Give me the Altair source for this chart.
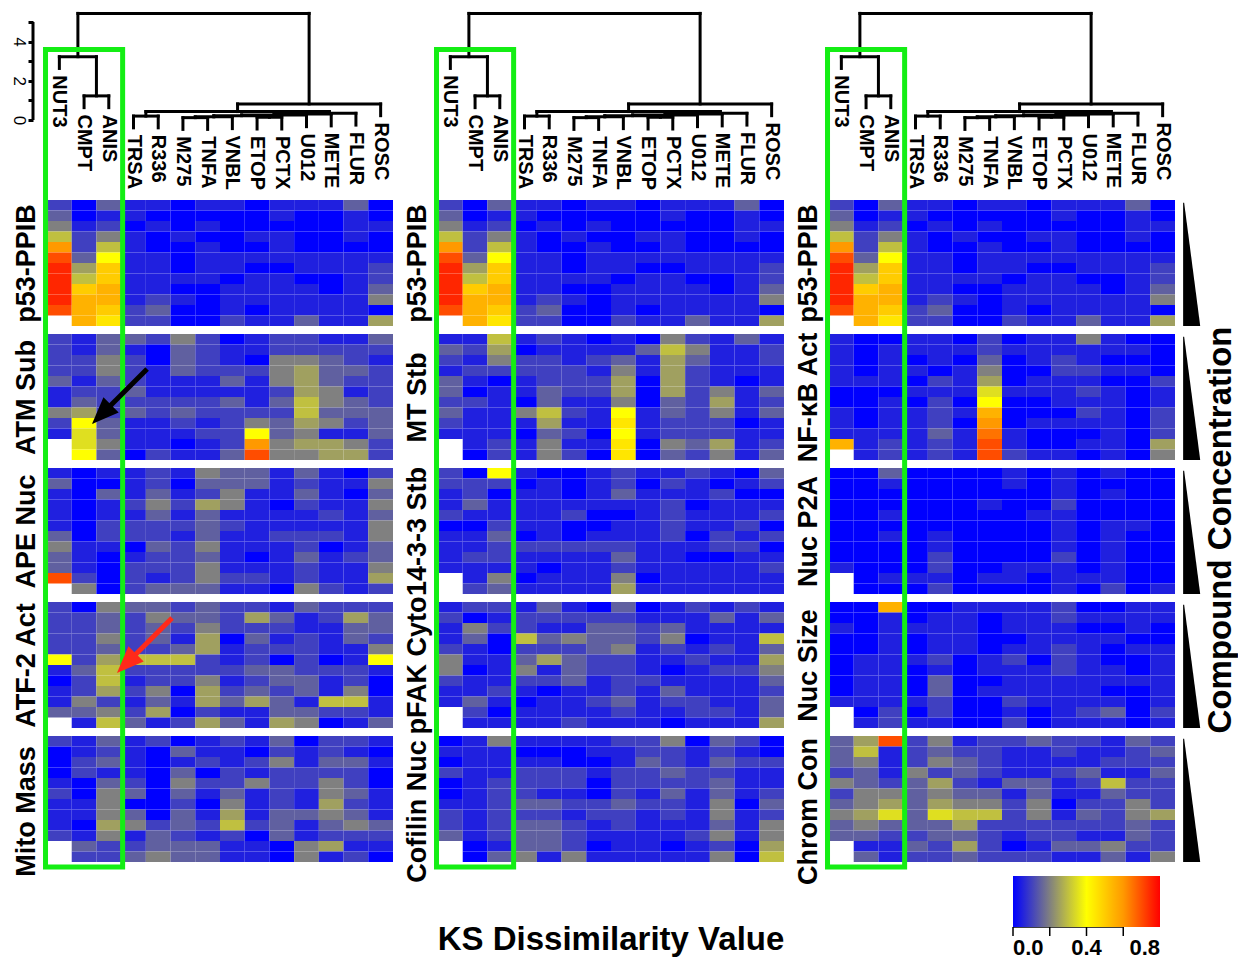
import math
import altair as alt
import pandas as pd

COMPOUNDS = ["NUT3", "CMPT", "ANIS", "TRSA", "R336", "M275", "TNFA",
             "VNBL", "ETOP", "PCTX", "U012", "METE", "FLUR", "ROSC"]

# KS dissimilarity per panel: one string per concentration step (low -> high),
# one character per compound; value = base-36 digit x 0.05, "." = no data
P53_PPIB = ["20311011011130", "30110000010010", "41201010000011", "62410100110010",
            "c2610010010000", "e3811011111111", "f5a11011001112", "f6a11110110012",
            "fab11001111013", "fbb12101111114", "eba23001011110", ".b922002113115"]
ATM_SUB = ["21332420122113", "21310321122222", "22420321044321", "22421322245332",
           "31321113145322", "12231111125412", "13222223136432", "45232322226333",
           "28311212435423", "17311122834113", ".7411012c45542", ".8302113e44552"]
APE_NUC = ["10112143313102", "30012033312114", "10313124113103", "10124254102114",
           "10113131111213", "10222232111114", "30222131122214", "41103241112013",
           "31012231013123", "31022241112114", "e2021242212115", ".4023331104212"]
ATF2_ACT = ["20433232213222", "22324332531253", "22323242221133", "22423150312132",
            "22322351222114", "82566621202018", "13622222332221", "02612241233120",
            "12524052323140", "14213153531661", "33425021133221", ".1631253154013"]
MITO_MASS = ["21312012130221", "01210311021210", "02310121241331", "02110302122220",
             "10320422422420", "20430313121431", "11400204121521", "11430315133431",
             "10542326231343", "21413212031222", ".3223331104511", ".2234331104120"]
MT_STB = ["11612101042131", "32501111364112", "21422123153112", "12222214152111",
          "31012225052101", "30113225052413", "22103114032512", "31146218132413",
          "21115119122201", "11103208122211", ".1214119043512", ".0214209032413"]
STB_14_3_3 = ["20810012112103", "22201012021012", "12011013111200", "13111111120111",
              "21111200121112", "00211001121120", "11301011120212", "11222222111220",
              "12211113110011", "11110112111112", ".1401114011111", ".2311115111111"]
PFAK_CYTO = ["12213103012121", "20122222111313", "14221133231111", "13063433240116",
             "21022234121213", "41135322112115", "40141322101224", "21122312211113",
             "11210112131112", "13101123122113", ".2011112112213", ".1111211101115"]
COFILIN_NUC = ["01411112240320", "11100011221210", "01111001321322", "21122212232211",
               "01222202222311", "01221102131312", "11233223221403", "21222122121412",
               "21233212111314", "31233211112414", ".0133201101205", ".0341411111406"]
NFKB_ACT = ["10011020114100", "10111121111110", "10101030121000", "10110140022110",
            "11102150111002", "00011171112101", "00102080011101", "101121b0002102",
            "101120c0111102", "111131d1000102", "b12121e1001105", ".12121e2110104"]
NUC_P2A = ["00300001010100", "00100001010000", "00000000010100", "00000010020000",
           "00100000110000", "00000000010110", "00101000010100", "00001000010100",
           "00002000020100", "10002001110100", ".0111011011100", ".0002000010201"]
NUC_SIZE = ["00b00111120011", "00101101121111", "10111101110010", "00101100111100",
            "00101101121011", "01112012021001", "01101011121101", "01103001111111",
            "01103011111001", "11112002111101", ".0202001012302", ".1211002011101"]
CHROM_CON = ["35e24122322132", "36123221121123", "34124321111222", "23142321123113",
             "43235213312622", "24434331311322", "34535442402242", "45737662413245",
             "34333522222232", "33223321221132", ".1132520133422", ".3122322211314"]

COLUMNS = [
    [("p53-PPIB", P53_PPIB), ("ATM Sub", ATM_SUB), ("APE Nuc", APE_NUC),
     ("ATF-2 Act", ATF2_ACT), ("Mito Mass", MITO_MASS)],
    [("p53-PPIB", P53_PPIB), ("MT Stb", MT_STB), ("14-3-3 Stb", STB_14_3_3),
     ("pFAK Cyto", PFAK_CYTO), ("Cofilin Nuc", COFILIN_NUC)],
    [("p53-PPIB", P53_PPIB), ("NF-\u03baB Act", NFKB_ACT), ("Nuc P2A", NUC_P2A),
     ("Nuc Size", NUC_SIZE), ("Chrom Con", CHROM_CON)],
]

# dendrogram: (left, right, height); leaves 0..13, merged nodes numbered from 14
DENDRO_MERGES = [
    (1, 2, 1.23), (0, 14, 3.23), (3, 4, 0.20), (5, 6, 0.12), (17, 7, 0.16),
    (8, 9, 0.14), (18, 19, 0.22), (20, 10, 0.26), (21, 11, 0.30), (22, 12, 0.34),
    (16, 23, 0.43), (24, 13, 0.82), (15, 25, 5.44),
]
LEAF_HANG = 0.6
SCALE_BAR = [0, 5]

COLOR_STOPS = [0.0, 0.2, 0.4, 0.6, 0.8]
COLOR_RANGE = ["#0000ff", "#808080", "#ffff00", "#ff9900", "#ff0000"]
LEGEND_VALUES = [0.0, 0.4, 0.8]
LEGEND_TICKS = [0.0, 0.2, 0.4, 0.6]

# layout (pixels)
PANEL_W, PANEL_H, GAP = 346, 126, 8
DENDRO_H, COL_GAP = 170, 45
DENDRO_PX_PER_UNIT = 19.6
N_ROWS = 12
CELL_W = PANEL_W / len(COMPOUNDS)
ROW_H = PANEL_H / N_ROWS
FONT = "Liberation Sans"
GREEN = "#14ee14"
LEG_X, LEG_Y, LEG_LEN, LEG_THICK = 966, 854, 147, 51
LEG_TICK_LEN = 9

XS = alt.Scale(domain=[0, len(COMPOUNDS)], nice=False, zero=False)
YS = alt.Scale(domain=[0, N_ROWS], nice=False, zero=False, reverse=True)
DYS = alt.Scale(domain=[5 - DENDRO_H / DENDRO_PX_PER_UNIT, 5], nice=False, zero=False)
CSCALE = alt.Scale(domain=COLOR_STOPS, range=COLOR_RANGE, interpolate="rgb", clamp=True)
LEGEND = alt.Legend(orient="none", legendX=LEG_X, legendY=LEG_Y, direction="horizontal",
                    type="gradient",
                    gradientLength=LEG_LEN, gradientThickness=LEG_THICK, values=LEGEND_VALUES,
                    format=".1f", labelFontSize=22, labelFontWeight="bold",
                    labelColor="black", labelFont=FONT, labelAlign="center",
                    labelOffset=11, gradientStrokeWidth=0, title=None)

P5_TOP = DENDRO_H + GAP + 4 * (PANEL_H + GAP)   # panel-5 top, px below the first row top


def rows_offset(p):
    """rows from panel 5 top to panel p top (negative = above)."""
    return -(4 - p) * (PANEL_H + GAP) / ROW_H


def heat_df(rows):
    recs = []
    for r, s in enumerate(rows):
        assert len(s) == len(COMPOUNDS), s
        for c, ch in enumerate(s):
            if ch == ".":
                continue
            v = round(int(ch, 36) * 0.05, 2)
            recs.append({"compound": COMPOUNDS[c], "x": c, "x2": c + 1,
                         "y": r, "y2": r + 1, "ks": v})
    return pd.DataFrame(recs)


def arrow_layers(tail, tip, color, yaxis, head_len=27):
    dxp = (tip[0] - tail[0]) * CELL_W
    dyp = (tip[1] - tail[1]) * ROW_H
    L = math.hypot(dxp, dyp)
    ux, uy = dxp / L, dyp / L
    cx = tip[0] - ux * head_len / 2 / CELL_W
    cy = tip[1] - uy * head_len / 2 / ROW_H
    ang = math.degrees(math.atan2(ux, -uy)) % 360
    shaft = alt.Chart(pd.DataFrame([{"x": tail[0], "x2": cx, "y": tail[1], "y2": cy}])).mark_rule(
        color=color, strokeWidth=5).encode(
        x=alt.X("x:Q", scale=XS, axis=None), x2="x2:Q",
        y=alt.Y("y:Q", scale=YS, axis=yaxis), y2="y2:Q")
    head = alt.Chart(pd.DataFrame([{"x": cx, "y": cy}])).mark_point(
        shape="M0,-1L0.8,1L-0.8,1Z", filled=True, opacity=1, color=color,
        size=head_len ** 2, angle=ang, strokeWidth=0).encode(
        x=alt.X("x:Q", scale=XS, axis=None), y=alt.Y("y:Q", scale=YS, axis=yaxis))
    return [shaft, head]


def panel(ci, p, name, rows):
    ax = dict(title=name, titleFontSize=27, titleFontWeight="bold", titleColor="black",
              titleFont=FONT, titleAngle=270, titlePadding=3, labels=False, domain=False,
              ticks=True, tickSize=3, tickColor="#8a8a8a", values=list(range(1, N_ROWS)),
              grid=False)
    if p == 4:
        ax["titleY"] = 75
    yaxis = alt.Axis(**ax)
    heat = alt.Chart(heat_df(rows)).mark_rect().encode(
        x=alt.X("x:Q", scale=XS, axis=None), x2="x2:Q",
        y=alt.Y("y:Q", scale=YS, axis=yaxis), y2="y2:Q",
        color=alt.Color("ks:Q", scale=CSCALE, legend=LEGEND),
        tooltip=["compound:N", "ks:Q"])
    layers = [heat]
    if ci == 2:
        tri = pd.DataFrame([{"y": 0.25, "x": 14.33, "x2": 14.37},
                            {"y": 12.0, "x": 14.33, "x2": 15.02}])
        layers.append(alt.Chart(tri).mark_area(orient="horizontal", color="black").encode(
            y=alt.Y("y:Q", scale=YS, axis=yaxis),
            x=alt.X("x:Q", scale=XS, axis=None), x2="x2:Q"))
        if p == 2:
            layers.append(alt.Chart(pd.DataFrame([{"x": 15.86, "y": 5.9,
                                                   "t": "Compound Concentration"}])).mark_text(
                angle=270, fontSize=33, fontWeight="bold", font=FONT, color="black",
                align="center", baseline="middle").encode(
                x=alt.X("x:Q", scale=XS, axis=None), y=alt.Y("y:Q", scale=YS, axis=yaxis),
                text="t:N"))
        if p == 4:
            # tick marks under the colour bar
            x0 = (LEG_X - 2 * (PANEL_W + COL_GAP)) / CELL_W
            per = LEG_LEN / COLOR_STOPS[-1] / CELL_W
            yb = (LEG_Y + LEG_THICK - P5_TOP) / ROW_H
            ticks = [{"x": x0 + v * per, "x2": x0 + v * per, "y": yb,
                      "y2": yb + LEG_TICK_LEN / ROW_H} for v in LEGEND_TICKS]
            ticks.append({"x": x0, "x2": x0 + LEGEND_TICKS[-1] * per, "y": yb, "y2": yb})
            layers.append(alt.Chart(pd.DataFrame(ticks)).mark_rule(
                color="black", strokeWidth=1.5).encode(
                x=alt.X("x:Q", scale=XS, axis=None), x2="x2:Q",
                y=alt.Y("y:Q", scale=YS, axis=yaxis), y2="y2:Q"))
    if ci == 1 and p == 4:
        layers.append(alt.Chart(pd.DataFrame([{"x": 7.0, "y": 19.4,
                                               "t": "KS Dissimilarity Value"}])).mark_text(
            fontSize=33, fontWeight="bold", font=FONT, color="black",
            align="center", baseline="middle").encode(
            x=alt.X("x:Q", scale=XS, axis=None), y=alt.Y("y:Q", scale=YS, axis=yaxis),
            text="t:N"))
    if p == 4:
        top_rows = (27.5 - P5_TOP) / ROW_H
        box = pd.DataFrame([{"x": -0.06, "x2": 3.06, "y": top_rows, "y2": 12.48}])
        layers.append(alt.Chart(box).mark_rect(fill="transparent", stroke=GREEN,
                                               strokeWidth=5).encode(
            x=alt.X("x:Q", scale=XS, axis=None), x2="x2:Q",
            y=alt.Y("y:Q", scale=YS, axis=yaxis), y2="y2:Q"))
        if ci == 0:
            o2, o4 = rows_offset(1), rows_offset(3)
            layers += arrow_layers((4.05, 3.33 + o2), (1.82, 8.57 + o2), "black", yaxis)
            layers += arrow_layers((5.06, 1.52 + o4), (2.83, 6.76 + o4), "#ff2a1a", yaxis)
    return alt.layer(*layers).properties(width=PANEL_W, height=PANEL_H)


def dendro(show_axis):
    pos = {i: i + 0.5 for i in range(len(COMPOUNDS))}
    hgt, leaf_end, segs = {}, {}, []
    for k, (a, b, h) in enumerate(DENDRO_MERGES):
        node = len(COMPOUNDS) + k
        pos[node] = (pos[a] + pos[b]) / 2
        hgt[node] = h
        segs.append({"x": pos[a], "x2": pos[b], "y": h, "y2": h})
        for c in (a, b):
            if c < len(COMPOUNDS):
                bottom = h - LEAF_HANG
                leaf_end[c] = bottom
            else:
                bottom = hgt[c]
            segs.append({"x": pos[c], "x2": pos[c], "y": bottom, "y2": h})
    labels = pd.DataFrame([{"x": pos[i], "y": leaf_end[i] - 0.35, "label": COMPOUNDS[i]}
                           for i in range(len(COMPOUNDS))])
    if show_axis:
        yaxis = alt.Axis(values=list(range(SCALE_BAR[0], SCALE_BAR[1] + 1)), title=None,
                         labelExpr="datum.value % 2 == 0 ? datum.label : ''",
                         labelAngle=90, labelFontSize=17, labelFont=FONT,
                         labelColor="black", labelAlign="center", labelBaseline="top",
                         labelPadding=2, tickSize=5, tickWidth=3, tickColor="black",
                         domain=False, offset=14, grid=False)
    else:
        yaxis = None
    rules = alt.Chart(pd.DataFrame(segs)).mark_rule(
        color="black", strokeWidth=3, strokeCap="square").encode(
        x=alt.X("x:Q", scale=XS, axis=None), x2="x2:Q",
        y=alt.Y("y:Q", scale=DYS, axis=yaxis), y2="y2:Q")
    text = alt.Chart(labels).mark_text(
        angle=90, align="left", baseline="middle", fontSize=20, fontWeight="bold",
        font=FONT, color="black").encode(
        x=alt.X("x:Q", scale=XS, axis=None), y=alt.Y("y:Q", scale=DYS, axis=yaxis),
        text="label:N")
    layers = [rules, text]
    if show_axis:
        bar = pd.DataFrame([{"y": SCALE_BAR[0], "y2": SCALE_BAR[1]}])
        layers.append(alt.Chart(bar).mark_rule(color="black", strokeWidth=3).encode(
            x=alt.value(-14), y=alt.Y("y:Q", scale=DYS, axis=yaxis), y2="y2:Q"))
    return alt.layer(*layers).properties(width=PANEL_W, height=DENDRO_H)


cells = [dendro(ci == 0) for ci in range(3)]
for p in range(5):
    for ci in range(3):
        name, rows = COLUMNS[ci][p]
        cells.append(panel(ci, p, name, rows))

chart = alt.concat(*cells, columns=3, spacing={"row": GAP, "column": COL_GAP},
                   bounds="flush").properties(
    padding={"left": 2, "top": 3, "right": 0, "bottom": 0},
    background="white",
).configure(font=FONT).configure_view(strokeWidth=0, stroke="transparent")

chart.save("out.html", embed_options={"renderer": "svg", "actions": False})
